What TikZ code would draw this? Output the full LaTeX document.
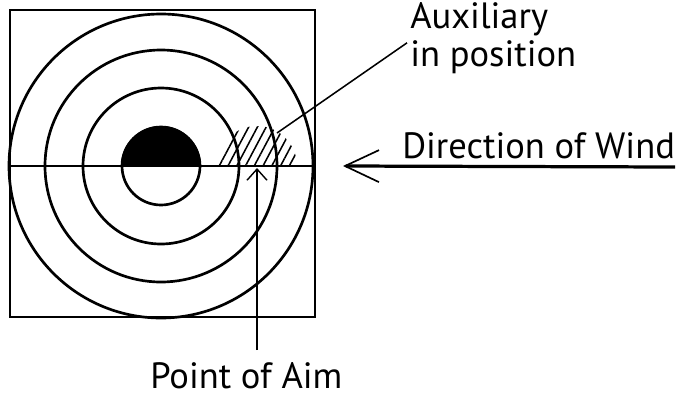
\documentclass[tikz,border=0pt]{standalone}
\usepackage{fontspec}
\setmainfont{PT Sans}
\usetikzlibrary{arrows.meta,patterns.meta}

\tikzset{
	ring/.style={line width=1.9pt},
	leader/.style={line width=1.1pt},
	lbl/.style={inner sep=0pt, anchor=base west, font=\fontsize{26}{30}\selectfont},
}

\begin{document}
\begin{tikzpicture}[x=0.025cm, y=-0.025cm]
	\useasboundingbox (0,0) rectangle (678,397);
	% target card
	\draw[line width=1.8pt] (10,10) rectangle (315,317);
	\coordinate (bull) at (161,166);
	\fill (bull) ++(-40,0) arc (180:360:40) -- cycle;
	\foreach \r in {39,78,116,152}
		\draw[ring] (bull) circle (\r);
	\draw[line width=1.2pt] (10,166) -- (315,166);
	% auxiliary, hatched
	\coordinate (aux) at (257,166);
	\fill[pattern={Lines[angle=62, distance=5.5pt, line width=1.1pt]}] (aux) ++(-40,0) arc (180:360:40) -- cycle;
	% labels
	\node[lbl] (auxlbl) at (410,28) {Auxiliary};
	\node[lbl] (poslbl) at (410,66) {in position};
	\node[lbl] (windlbl) at (402,158) {Direction of Wind};
	\node[lbl] (aimlbl) at (150,388) {Point of Aim};
	% leaders
	\coordinate (auxpt) at (277,133);
	\draw[leader] (poslbl.north west) ++(-3,3) -- (auxpt);
	\coordinate (windend) at (675,167);
	\coordinate (windtip) at (343,166);
	\draw[line width=2.3pt, -{Straight Barb[length=0.85cm, width=0.8cm, line width=1.2pt]}] (windend) -- (windtip);
	\coordinate (aimpt) at (257,168);
	\coordinate (aimend) at (257,350);
	\draw[line width=1.5pt, -{Straight Barb[length=0.28cm, width=0.5cm, line width=1pt]}] (aimend) -- (aimpt);
\end{tikzpicture}
\end{document}
